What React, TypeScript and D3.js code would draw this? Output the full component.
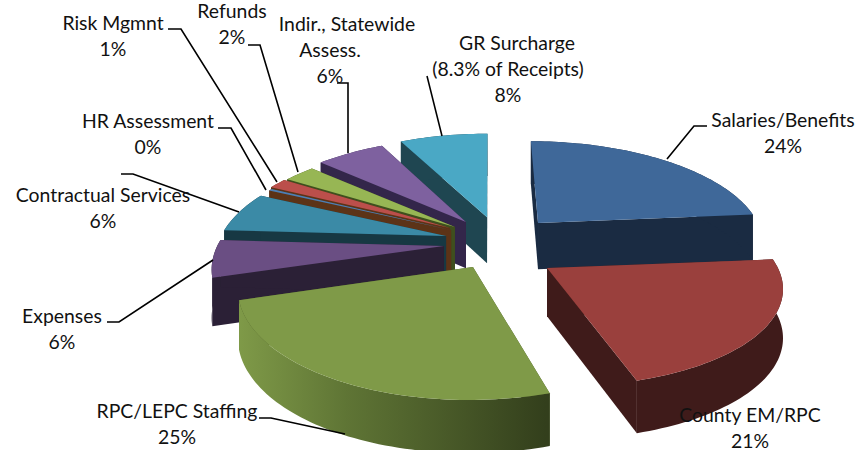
import React from "react";
import * as d3 from "d3";

const categories = ["Salaries/Benefits","County EM/RPC","RPC/LEPC Staffing","Expenses","Contractual Services","HR Assessment","Risk Mgmnt","Refunds","Indir., Statewide Assess.","GR Surcharge (8.3% of Receipts)"];
const sliceShares = [23.6,21.8,25,5.6,6.2,0.3,1.6,2.7,5.8,7.5];
const offsetX = [0.225,0.247,-0.074,-0.207,-0.201,-0.18,-0.186,-0.163,-0.113,-0.014];
const offsetY = [-0.172,0.262,0.253,0.058,-0.039,-0.1,-0.12,-0.13,-0.182,-0.233];
const radiusX = [1.03,1,1,1.02,1.03,1.02,1.02,1.03,1.05,1.05];
const radiusY = [1,0.88,0.97,1,1,1,1,1,1.04,1.05];
const topColors = ["#3f6899","#9a403d","#7f9a48","#6a4e83","#3b8aa6","#4b7fb5","#bb4f4b","#97b654","#7e619f","#4aa8c5"];
const wallColors = ["#1a2b42","#3f1b1a","#4a5a28","#2b2036","#173843","#5c3317","#5c3317","#3f4f1e","#33264a","#1f4651"];
const labelLines = [["Salaries/Benefits","24%"],["County EM/RPC","21%"],["RPC/LEPC Staffing","25%"],["Expenses","6%"],["Contractual Services","6%"],["HR Assessment","0%"],["Risk Mgmnt","1%"],["Refunds","2%"],["Indir., Statewide","Assess.","6%"],["GR Surcharge","(8.3% of Receipts)","8%"]];
const labelAnchor: [number,number][] = [[783,121],[750,416],[177,412],[62,317],[103,196],[148,122],[113,24],[232,12],[330,25],[508,44]];
const firstLineShift = [0,0,0,0,0,0,0,0,17,9];
const leaders: [number,number][][] = [
 [[707,126],[694,126],[667,159]],
 [],
 [[259,418],[271,418],[345,434]],
 [[107,322],[119,322],[213,260]],
 [[121,174],[133,174],[239,212]],
 [[218,128],[231,128],[266,190]],
 [[168,29],[181,29],[277,182]],
 [[248,45],[260,45],[298,172]],
 [[337,83],[348,83],[348,153]],
 [[427,76],[442,136]],
];

const cx = 490, cy = 240, R = 220, Rt = 102, persp = 0.18, H = 47;
const project = (X: number, Y: number, z = 0): [number,number] => {
  const w = 1 - persp * Y;
  return [cx + (R * X) / w, cy + (Rt * Y) / w + z / Math.sqrt(w)];
};
const poly = (pts: [number,number][]) => (d3.line()(pts) ?? "") + "Z";

export default function App() {
  const arcs = d3.pie<number>().sort(null)(sliceShares);
  const slices = arcs.map((a, i) => {
    const ox = offsetX[i], oy = offsetY[i];
    const n = Math.max(2, Math.ceil((a.endAngle - a.startAngle) * 40));
    const rim = d3.range(n + 1).map(k => {
      const t = a.startAngle + ((a.endAngle - a.startAngle) * k) / n;
      return [ox + radiusX[i] * Math.sin(t), oy - radiusY[i] * Math.cos(t)] as [number,number];
    });
    return { i, ox, oy, rim };
  });
  const order = [9,8,7,6,5,4,3,0,1,2];
  return (
    <svg width={867} height={450} style={{ position: "absolute", left: 0, top: 0, background: "#fff" }}>
      <defs>
        <linearGradient id="rpcWall" gradientUnits="userSpaceOnUse" x1={238} x2={546} y1={0} y2={0}>
          <stop offset="0" stopColor="#7f9a48" />
          <stop offset="0.35" stopColor="#5f7535" />
          <stop offset="1" stopColor="#333f1c" />
        </linearGradient>
      </defs>
      {order.map(idx => {
        const s = slices[idx];
        const top = [project(s.ox, s.oy), ...s.rim.map(p => project(p[0], p[1]))] as [number,number][];
        const bottom = [project(s.ox, s.oy, H), ...s.rim.map(p => project(p[0], p[1], H))] as [number,number][];
        const rimPts = top.slice(1), rimB = bottom.slice(1);
        const outer = [...rimPts, ...[...rimB].reverse()];
        const sideA = [top[0], top[1], bottom[1], bottom[0]];
        const sideB = [top[0], top[top.length - 1], bottom[bottom.length - 1], bottom[0]];
        const wall = wallColors[idx];
        return (
          <g key={idx}>
            <path d={poly(sideA)} fill={wall} />
            <path d={poly(sideB)} fill={wall} />
            <path d={poly(outer)} fill={idx === 2 ? "url(#rpcWall)" : wall} />
            <path d={poly(top)} fill={topColors[idx]} />
          </g>
        );
      })}
      {leaders.map((l, i) => l.length ? <path key={i} d={d3.line()(l) ?? ""} fill="none" stroke="#000" strokeWidth={1.6} /> : null)}
      <g fontFamily="Lato, sans-serif" fontSize={19.4} fill="#111" textAnchor="middle">
        {labelLines.map((lines, i) => (
          <text key={i} x={labelAnchor[i][0]} y={labelAnchor[i][1]}>
            {lines.map((t, k) => <tspan key={k} x={labelAnchor[i][0] + (k === 0 ? firstLineShift[i] : 0)} dy={k === 0 ? 6 : 26}>{t}</tspan>)}
          </text>
        ))}
      </g>
    </svg>
  );
}
